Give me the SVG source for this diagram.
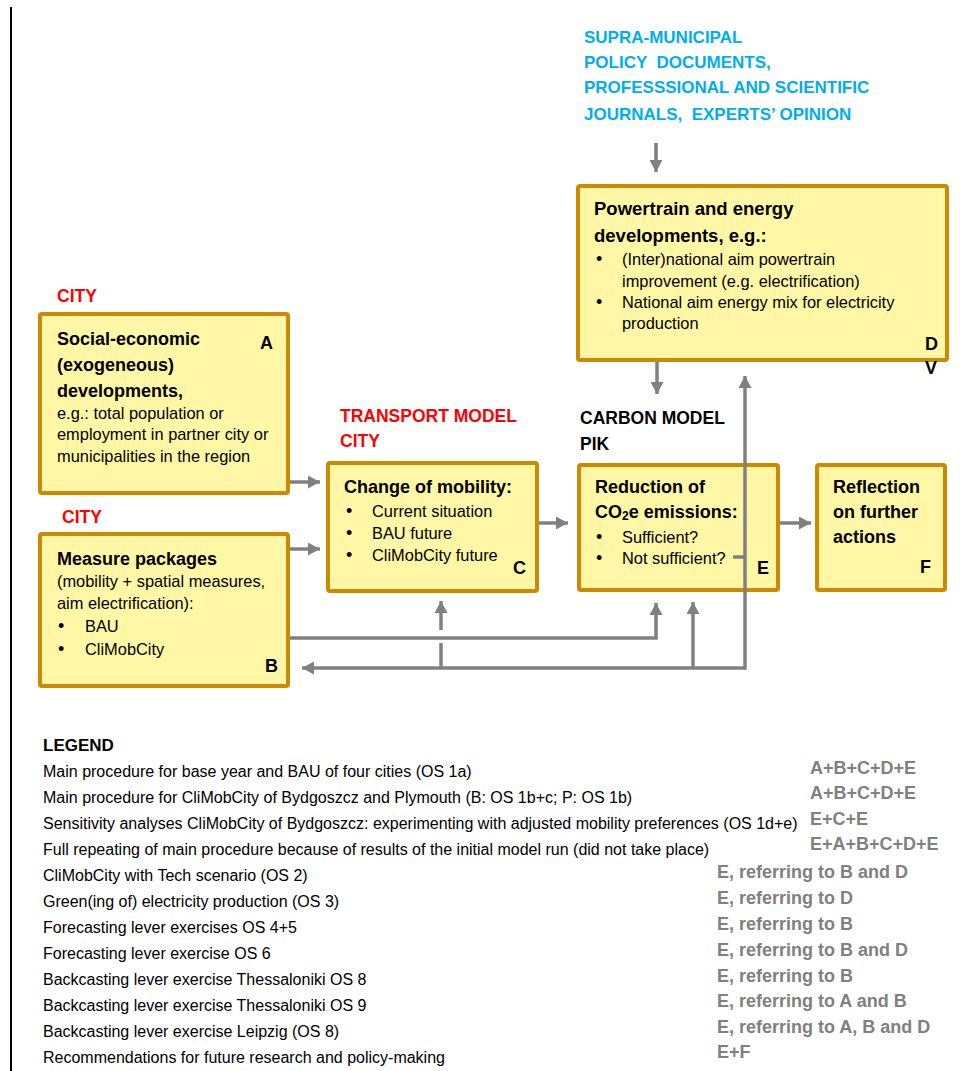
<svg xmlns="http://www.w3.org/2000/svg" width="960" height="1071" viewBox="0 0 960 1071">
<defs>
<style>
text{font-family:"Liberation Sans",Arial,sans-serif;}
.box{fill:#FFF7A6;stroke:#CC8A00;stroke-width:4;}
.t{font-size:18px;font-weight:bold;fill:#000;}
.b{font-size:16.4px;fill:#000;}
.bu{font-size:18px;fill:#000;}
.red{font-size:17.5px;font-weight:bold;fill:#FF0000;}
.blk{font-size:17.5px;font-weight:bold;fill:#000;}
.cy{font-size:17px;font-weight:bold;fill:#00AEEF;}
.lg{font-size:16px;fill:#000;}
.gr{font-size:18px;font-weight:bold;fill:#808080;}
.c{fill:none;stroke:#808080;stroke-width:3.5;}
</style>
<marker id="ah" markerUnits="userSpaceOnUse" markerWidth="13" markerHeight="13" refX="12" refY="6.5" orient="auto">
<path d="M0,0 L12,6.5 L0,13 z" fill="#808080"/>
</marker>
</defs>
<rect width="960" height="1071" fill="#FFFFFF"/>
<line x1="11" y1="7" x2="11" y2="1071" stroke="#000" stroke-width="2"/>

<g id="labels">
<text class="cy" x="584" y="43">SUPRA-MUNICIPAL</text>
<text class="cy" x="584" y="68" xml:space="preserve">POLICY  DOCUMENTS,</text>
<text class="cy" x="584" y="93">PROFESSSIONAL AND SCIENTIFIC</text>
<text class="cy" x="584" y="120" xml:space="preserve">JOURNALS,  EXPERTS’ OPINION</text>
<text class="red" x="57" y="302">CITY</text>
<text class="red" x="62" y="523">CITY</text>
<text class="red" x="340" y="422">TRANSPORT MODEL</text>
<text class="red" x="340" y="447">CITY</text>
<text class="blk" x="580" y="424">CARBON MODEL</text>
<text class="blk" x="580" y="450">PIK</text>
</g>

<g id="nodeA">
<rect class="box" x="40" y="314" width="248" height="179" rx="2"/>
<text class="t" x="57" y="345">Social-economic</text>
<text class="t" x="57" y="371">(exogeneous)</text>
<text class="t" x="57" y="397">developments,</text>
<text class="b" x="57" y="419">e.g.: total population or</text>
<text class="b" x="57" y="440">employment in partner city or</text>
<text class="b" x="57" y="462">municipalities in the region</text>
<text class="t" x="260" y="349">A</text>
</g>

<g id="nodeB">
<rect class="box" x="40" y="534" width="248" height="152" rx="2"/>
<text class="t" x="57" y="565">Measure packages</text>
<text class="b" x="57" y="587">(mobility + spatial measures,</text>
<text class="b" x="57" y="609">aim electrification):</text>
<text class="bu" x="58" y="632">•</text>
<text class="b" x="85" y="632">BAU</text>
<text class="bu" x="58" y="655">•</text>
<text class="b" x="85" y="655">CliMobCity</text>
<text class="t" x="265" y="672">B</text>
</g>

<g id="nodeC">
<rect class="box" x="328" y="463" width="209" height="128" rx="2"/>
<text class="t" x="344" y="493">Change of mobility:</text>
<text class="bu" x="346" y="517">•</text>
<text class="b" x="372" y="517">Current situation</text>
<text class="bu" x="346" y="539">•</text>
<text class="b" x="372" y="539">BAU future</text>
<text class="bu" x="346" y="561">•</text>
<text class="b" x="372" y="561">CliMobCity future</text>
<text class="t" x="513" y="574">C</text>
</g>

<g id="nodeD">
<rect class="box" x="578" y="186" width="369" height="174" rx="2"/>
<text class="t" x="594" y="215" style="font-size:18.5px">Powertrain and energy</text>
<text class="t" x="594" y="242" style="font-size:18.5px">developments, e.g.:</text>
<text class="bu" x="596" y="265">•</text>
<text class="b" x="622" y="265">(Inter)national aim powertrain</text>
<text class="b" x="622" y="287">improvement (e.g. electrification)</text>
<text class="bu" x="596" y="308">•</text>
<text class="b" x="622" y="308">National aim energy mix for electricity</text>
<text class="b" x="622" y="329">production</text>
<text class="t" x="925" y="350">D</text>
<text class="t" x="925" y="374">V</text>
</g>

<g id="nodeE">
<rect class="box" x="579" y="465" width="199" height="125" rx="2"/>
<text class="t" x="595" y="493">Reduction of</text>
<text class="t" x="595" y="518">CO<tspan font-size="12" dy="2">2</tspan><tspan dy="-2">e emissions:</tspan></text>
<text class="bu" x="596" y="543">•</text>
<text class="b" x="622" y="543">Sufficient?</text>
<text class="bu" x="596" y="564">•</text>
<text class="b" x="622" y="564">Not sufficient?</text>
<text class="t" x="757" y="574">E</text>
</g>

<g id="nodeF">
<rect class="box" x="817" y="465" width="128" height="125" rx="2"/>
<text class="t" x="833" y="493">Reflection</text>
<text class="t" x="833" y="518">on further</text>
<text class="t" x="833" y="543">actions</text>
<text class="t" x="920" y="573">F</text>
</g>

<g id="connectors">
<line class="c" x1="656" y1="143" x2="656" y2="172" marker-end="url(#ah)"/>
<line class="c" x1="657" y1="362" x2="657" y2="394" marker-end="url(#ah)"/>
<line class="c" x1="290" y1="482" x2="320" y2="482" marker-end="url(#ah)"/>
<line class="c" x1="290" y1="549" x2="320" y2="549" marker-end="url(#ah)"/>
<line class="c" x1="539" y1="523" x2="568" y2="523" marker-end="url(#ah)"/>
<line class="c" x1="780" y1="523" x2="811" y2="523" marker-end="url(#ah)"/>
<polyline class="c" points="290,638 656,638 656,603" marker-end="url(#ah)"/>
<line class="c" x1="733" y1="557" x2="745" y2="557"/>
<line class="c" x1="745" y1="669.7" x2="745" y2="376" marker-end="url(#ah)"/>
<polyline class="c" points="745,668 302,668" marker-end="url(#ah)"/>
<line class="c" x1="693" y1="668" x2="693" y2="602" marker-end="url(#ah)"/>
<line class="c" x1="441" y1="668" x2="441" y2="643"/>
<line class="c" x1="441" y1="630" x2="441" y2="601" marker-end="url(#ah)"/>
</g>

<g id="legend">
<text class="blk" x="43" y="751" style="font-size:17px">LEGEND</text>
<text class="lg" x="43" y="777">Main procedure for base year and BAU of four cities (OS 1a)</text>
<text class="lg" x="43" y="803">Main procedure for CliMobCity of Bydgoszcz and Plymouth (B: OS 1b+c; P: OS 1b)</text>
<text class="lg" x="43" y="829">Sensitivity analyses CliMobCity of Bydgoszcz: experimenting with adjusted mobility preferences (OS 1d+e)</text>
<text class="lg" x="43" y="855">Full repeating of main procedure because of results of the initial model run (did not take place)</text>
<text class="lg" x="43" y="881">CliMobCity with Tech scenario (OS 2)</text>
<text class="lg" x="43" y="907">Green(ing of) electricity production (OS 3)</text>
<text class="lg" x="43" y="933">Forecasting lever exercises OS 4+5</text>
<text class="lg" x="43" y="959">Forecasting lever exercise OS 6</text>
<text class="lg" x="43" y="985">Backcasting lever exercise Thessaloniki OS 8</text>
<text class="lg" x="43" y="1011">Backcasting lever exercise Thessaloniki OS 9</text>
<text class="lg" x="43" y="1037">Backcasting lever exercise Leipzig (OS 8)</text>
<text class="lg" x="43" y="1063">Recommendations for future research and policy-making</text>
<text class="gr" x="810" y="774">A+B+C+D+E</text>
<text class="gr" x="810" y="799">A+B+C+D+E</text>
<text class="gr" x="810" y="825">E+C+E</text>
<text class="gr" x="810" y="850">E+A+B+C+D+E</text>
<text class="gr" x="717" y="878">E, referring to B and D</text>
<text class="gr" x="717" y="904">E, referring to D</text>
<text class="gr" x="717" y="930">E, referring to B</text>
<text class="gr" x="717" y="956">E, referring to B and D</text>
<text class="gr" x="717" y="982">E, referring to B</text>
<text class="gr" x="717" y="1007">E, referring to A and B</text>
<text class="gr" x="717" y="1033">E, referring to A, B and D</text>
<text class="gr" x="717" y="1058">E+F</text>
</g>
</svg>
